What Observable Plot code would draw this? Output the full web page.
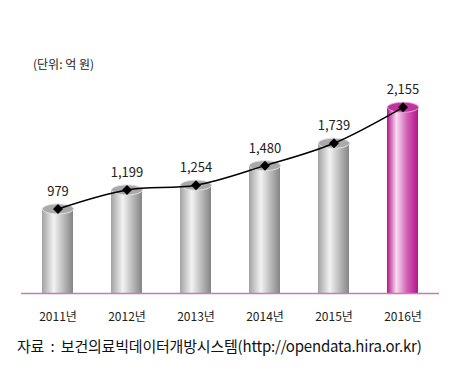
<!DOCTYPE html>
<html>
<head>
<meta charset="utf-8">
<script src="https://cdn.jsdelivr.net/npm/d3@7"></script>
<script src="https://cdn.jsdelivr.net/npm/@observablehq/plot@0.6"></script>
<style>
  html, body { margin: 0; padding: 0; background: #fff; }
  #wrap { position: relative; width: 464px; height: 367px; font-family: "Noto Sans CJK KR", "Noto Sans", sans-serif; }
  #unit { position: absolute; left: 33px; top: 58px; font-size: 12px; color: #222; line-height: 1; }
  #caption { position: absolute; left: 17px; top: 338px; font-size: 15px; color: #111; line-height: 1; white-space: pre; letter-spacing: -0.2px; }
</style>
</head>
<body>
<div id="wrap">
  <div id="chart"></div>
  <div id="unit"></div>
  <div id="caption"></div>
</div>
<script>
const years = ["2011년", "2012년", "2013년", "2014년", "2015년", "2016년"];
const values = [979, 1199, 1254, 1480, 1739, 2155];
const highlightYear = "2016년";
const unitLabel = "(단위: 억 원)";
const captionText = "자료  :  보건의료빅데이터개방시스템(http://opendata.hira.or.kr)";

document.getElementById("unit").textContent = unitLabel;
document.getElementById("caption").textContent = captionText;

const data = years.map((year, i) => ({year, value: values[i]}));
const greyData = data.filter(d => d.year !== highlightYear);
const pinkData = data.filter(d => d.year === highlightYear);

// elliptical cylinder-top symbol
const BW = 31, RY = 5;
const ellipseSymbol = {
  draw(ctx) {
    const rx = BW / 2, ry = RY, k = 0.5523;
    ctx.moveTo(-rx, 0);
    ctx.bezierCurveTo(-rx, -ry * k, -rx * k, -ry, 0, -ry);
    ctx.bezierCurveTo(rx * k, -ry, rx, -ry * k, rx, 0);
    ctx.bezierCurveTo(rx, ry * k, rx * k, ry, 0, ry);
    ctx.bezierCurveTo(-rx * k, ry, -rx, ry * k, -rx, 0);
    ctx.closePath();
  }
};
// square diamond marker
const diamondSymbol = {
  draw(ctx) {
    const s = 5;
    ctx.moveTo(0, -s);
    ctx.lineTo(s, 0);
    ctx.lineTo(0, s);
    ctx.lineTo(-s, 0);
    ctx.closePath();
  }
};

const chart = Plot.plot({
  width: 464,
  height: 330,
  marginLeft: 21,
  marginRight: 25,
  marginTop: 77,
  marginBottom: 37,
  style: {fontFamily: "'Noto Sans CJK KR', 'Noto Sans', sans-serif", fontSize: "12px", background: "white", color: "#222"},
  x: {domain: years, paddingInner: 0.557, paddingOuter: 0.279, label: null, tickSize: 0, tickPadding: 19},
  y: {domain: [0, 2500], axis: null},
  marks: [
    Plot.barY(greyData, {x: "year", y: "value", fill: "url(#greyGrad)"}),
    Plot.barY(pinkData, {x: "year", y: "value", fill: "url(#pinkGrad)"}),
    Plot.dot(greyData, {x: "year", y: "value", symbol: ellipseSymbol, r: 5, fill: "#a9a9a9", stroke: "#e2e2e2", strokeWidth: 1}),
    Plot.dot(pinkData, {x: "year", y: "value", symbol: ellipseSymbol, r: 5, fill: "#c2339d", stroke: "#eaa6d8", strokeWidth: 1}),
    Plot.ruleY([0], {stroke: "#c77bb6", strokeWidth: 1.5}),
    Plot.line(data, {x: "year", y: "value", stroke: "#000", strokeWidth: 1.5, curve: "catmull-rom"}),
    Plot.dot(data, {x: "year", y: "value", symbol: diamondSymbol, r: 5, fill: "#000", stroke: "none"}),
    Plot.text(data, {x: "year", y: "value", text: d => d3.format(",")(d.value), dy: -17, fontSize: 13, fill: "#222"})
  ]
});

const ns = "http://www.w3.org/2000/svg";
const defs = document.createElementNS(ns, "defs");
defs.innerHTML = `
  <linearGradient id="greyGrad" x1="0" x2="1" y1="0" y2="0">
    <stop offset="0" stop-color="#a2a2a2"/>
    <stop offset="0.38" stop-color="#f3f3f3"/>
    <stop offset="0.75" stop-color="#b0b0b0"/>
    <stop offset="1" stop-color="#848484"/>
  </linearGradient>
  <linearGradient id="pinkGrad" x1="0" x2="1" y1="0" y2="0">
    <stop offset="0" stop-color="#b3138b"/>
    <stop offset="0.3" stop-color="#f7dcef"/>
    <stop offset="0.65" stop-color="#d060b4"/>
    <stop offset="1" stop-color="#b4148c"/>
  </linearGradient>`;
chart.insertBefore(defs, chart.firstChild);
document.getElementById("chart").appendChild(chart);
</script>
</body>
</html>
